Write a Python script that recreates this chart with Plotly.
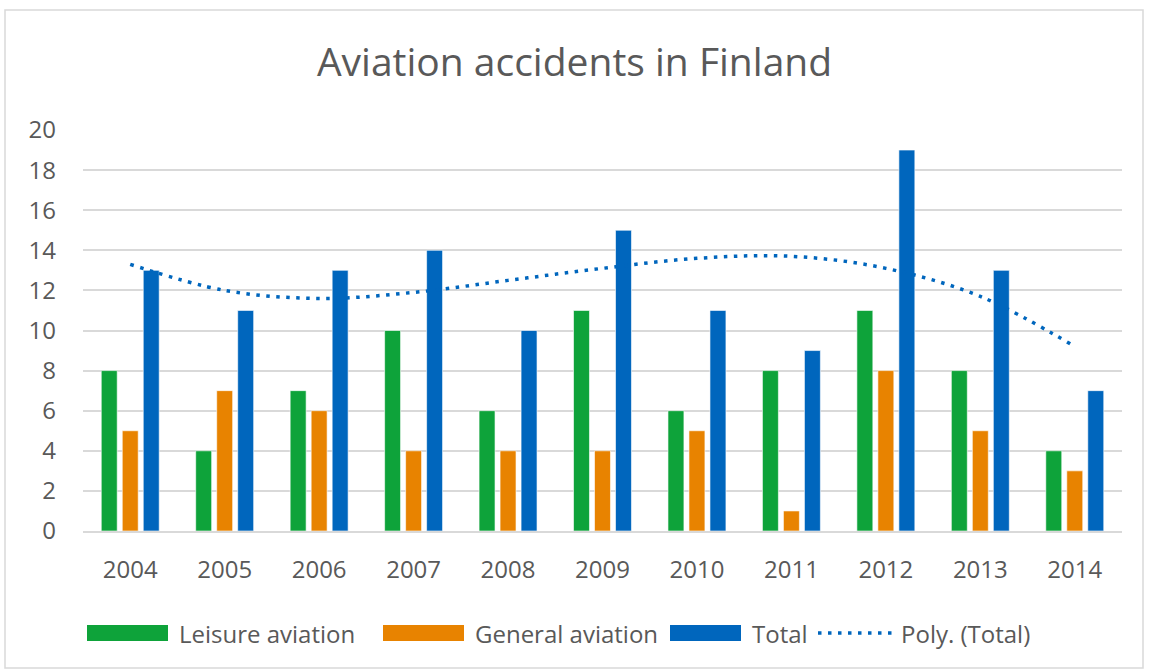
import plotly.graph_objects as go

years = ["2004", "2005", "2006", "2007", "2008", "2009", "2010", "2011", "2012", "2013", "2014"]
leisure = [8, 4, 7, 10, 6, 11, 6, 8, 11, 8, 4]
general = [5, 7, 6, 4, 4, 4, 5, 1, 8, 5, 3]
total = [13, 11, 13, 14, 10, 15, 11, 9, 19, 13, 7]
# trendline values at each year
poly_total = [13.3, 12.0, 11.6, 11.9, 12.5, 13.1, 13.6, 13.7, 13.1, 11.7, 9.2]
series_names = ["Leisure aviation", "General aviation", "Total", "Poly. (Total)"]

GREEN = "#0ea33a"
ORANGE = "#e88300"
BLUE = "#0066bd"
TXT = "#595959"
FONT = "Open Sans"
EDGE = dict(color="rgba(255,255,255,0.6)", width=1)

fig = go.Figure()
fig.add_trace(go.Bar(x=years, y=leisure, name=series_names[0], marker=dict(color=GREEN, line=EDGE)))
fig.add_trace(go.Bar(x=years, y=general, name=series_names[1], marker=dict(color=ORANGE, line=EDGE)))
fig.add_trace(go.Bar(x=years, y=total, name=series_names[2], marker=dict(color=BLUE, line=EDGE)))
fig.add_trace(go.Scatter(x=years, y=poly_total, name=series_names[3], mode="lines",
                         line=dict(color=BLUE, width=3.5, dash="3.5px,6.5px", shape="spline", smoothing=1.0)))

W, H = 1149, 671
L, R, T, B = 83, 27, 130, 140
pw, ph = W - L - R, H - T - B


def px(x):
    return (x - L) / pw


def py(y):
    return (T + ph - y) / ph


fig.update_layout(
    width=W, height=H,
    margin=dict(l=L, r=R, t=T, b=B),
    paper_bgcolor="white", plot_bgcolor="white",
    font=dict(family=FONT, color=TXT, size=24),
    title=dict(text="Aviation accidents in Finland", x=0.5, xanchor="center",
               y=1 - 62 / H, yanchor="middle", font=dict(size=39, color=TXT, family=FONT)),
    barmode="group", bargap=0.333, bargroupgap=0.24,
    showlegend=False,
)
fig.update_xaxes(showgrid=False, showline=True, linecolor="#d9d9d9", linewidth=2,
                 ticks="", tickfont=dict(size=24, color=TXT), ticklabelstandoff=16)
fig.update_yaxes(range=[0, 20], dtick=2, showgrid=True, gridcolor="#d9d9d9", gridwidth=1.5,
                 zeroline=False, showline=False, ticks="",
                 tickfont=dict(size=24, color=TXT), ticklabelstandoff=26)

# outer chart border
fig.add_shape(type="rect", xref="paper", yref="paper",
              x0=px(5), x1=px(1143), y0=py(668), y1=py(10),
              line=dict(color="#d9d9d9", width=1.5), fillcolor="rgba(0,0,0,0)", layer="below")

# legend (drawn manually to match wide swatches)
LY = 633
swatches = [(87, 168, GREEN, 177), (383, 464, ORANGE, 473), (670, 741, BLUE, 750)]
for (x0, x1, col, tx), name in zip(swatches, series_names[:3]):
    fig.add_shape(type="rect", xref="paper", yref="paper", x0=px(x0), x1=px(x1),
                  y0=py(LY + 8), y1=py(LY - 8), fillcolor=col, line=dict(width=0))
    fig.add_annotation(xref="paper", yref="paper", x=px(tx), y=py(LY), text=name, showarrow=False,
                       xanchor="left", yanchor="middle", font=dict(size=24, color=TXT, family=FONT))
fig.add_shape(type="line", xref="paper", yref="paper", x0=px(818), x1=px(893), y0=py(LY), y1=py(LY),
              line=dict(color=BLUE, width=3.5, dash="3.5px,6.5px"))
fig.add_annotation(xref="paper", yref="paper", x=px(899), y=py(LY), text=series_names[3], showarrow=False,
                   xanchor="left", yanchor="middle", font=dict(size=24, color=TXT, family=FONT))

fig.write_html("out.html", config={"displayModeBar": False},
               post_script="document.body.style.margin='0px';document.body.style.overflow='hidden';")
